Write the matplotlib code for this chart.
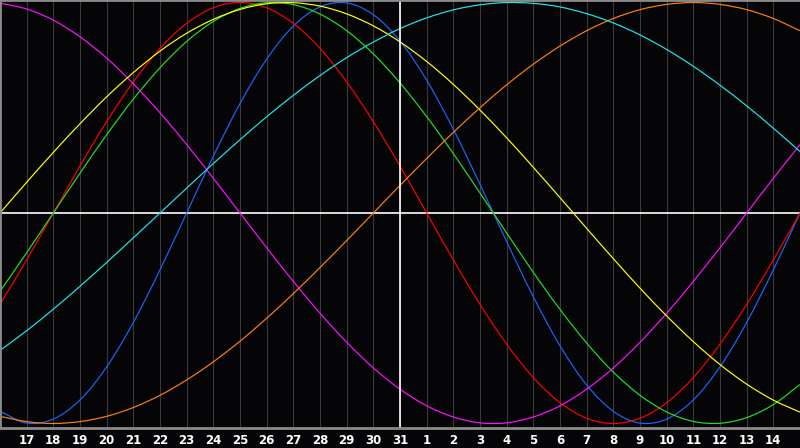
import matplotlib
matplotlib.use('Agg')
import matplotlib.pyplot as plt
from matplotlib.path import Path
from matplotlib.patches import PathPatch

# Day labels: 16 (left edge) ... 31, 1 ... 15 (right edge)
day_labels = [str(d) for d in list(range(16, 32)) + list(range(1, 16))]

# Cycle values (percent) at each day position
physical_23 = [-94.2, -99.8, -97.9, -88.8, -73.1, -52.0, -27.0, 0.0, 27.0, 52.0, 73.1,
               88.8, 97.9, 99.8, 94.2, 81.7, 63.1, 39.8, 13.6, -13.6, -39.8, -63.1,
               -81.7, -94.2, -99.8, -97.9, -88.8, -73.1, -52.0, -27.0, 0.0]
emotional_28 = [-43.4, -22.3, 0.0, 22.3, 43.4, 62.3, 78.2, 90.1, 97.5, 100.0, 97.5,
                90.1, 78.2, 62.3, 43.4, 22.3, 0.0, -22.3, -43.4, -62.3, -78.2, -90.1,
                -97.5, -100.0, -97.5, -90.1, -78.2, -62.3, -43.4, -22.3, 0.0]
intellectual_33 = [-37.2, -18.9, 0.0, 18.9, 37.2, 54.1, 69.0, 81.5, 91.0, 97.2, 99.9,
                   99.0, 94.5, 86.6, 75.6, 61.8, 45.8, 28.2, 9.5, -9.5, -28.2, -45.8,
                   -61.8, -75.6, -86.6, -94.5, -99.0, -99.9, -97.2, -91.0, -81.5]
intuitive_38 = [99.7, 96.9, 91.6, 83.7, 73.6, 61.4, 47.6, 32.5, 16.5, 0.0, -16.5,
                -32.5, -47.6, -61.4, -73.6, -83.7, -91.6, -96.9, -99.7, -99.7, -96.9, -91.6,
                -83.7, -73.6, -61.4, -47.6, -32.5, -16.5, 0.0, 16.5, 32.5]
aesthetic_43 = [0.0, 14.6, 28.8, 42.4, 55.2, 66.7, 76.9, 85.4, 92.0, 96.7, 99.4,
                99.9, 98.3, 94.6, 88.9, 81.3, 72.0, 61.1, 48.9, 35.7, 21.7, 7.3,
                -7.3, -21.7, -35.7, -48.9, -61.1, -72.0, -81.3, -88.9, -94.6]
awareness_48 = [-96.6, -99.1, -100.0, -99.1, -96.6, -92.4, -86.6, -79.3, -70.7, -60.9, -50.0,
                -38.3, -25.9, -13.1, 0.0, 13.1, 25.9, 38.3, 50.0, 60.9, 70.7, 79.3,
                86.6, 92.4, 96.6, 99.1, 100.0, 99.1, 96.6, 92.4, 86.6]
spiritual_53 = [-65.3, -55.9, -45.7, -34.8, -23.5, -11.8, 0.0, 11.8, 23.5, 34.8, 45.7,
                55.9, 65.3, 73.8, 81.2, 87.6, 92.7, 96.5, 98.9, 100.0, 99.6, 97.9,
                94.7, 90.3, 84.6, 77.7, 69.7, 60.7, 50.9, 40.3, 29.2]

series = [
    (physical_23, '#1a66ff'),
    (emotional_28, '#ff0000'),
    (intellectual_33, '#22e022'),
    (intuitive_38, '#ff10ff'),
    (aesthetic_43, '#ffff10'),
    (awareness_48, '#ff8010'),
    (spiritual_53, '#20e8e8'),
]

BG = '#050508'


def smooth_path(xs, ys):
    """Smooth (Catmull-Rom style) line through the data points."""
    pts = list(zip(xs, ys))
    n = len(pts)
    ext = [(2 * pts[0][0] - pts[1][0], 2 * pts[0][1] - pts[1][1])] + pts + \
          [(2 * pts[-1][0] - pts[-2][0], 2 * pts[-1][1] - pts[-2][1])]
    verts = [pts[0]]
    codes = [Path.MOVETO]
    for i in range(1, n):
        p0, p1, p2, p3 = ext[i - 1], ext[i], ext[i + 1], ext[i + 2]
        c1 = (p1[0] + (p2[0] - p0[0]) / 6, p1[1] + (p2[1] - p0[1]) / 6)
        c2 = (p2[0] - (p3[0] - p1[0]) / 6, p2[1] - (p3[1] - p1[1]) / 6)
        verts += [c1, c2, p2]
        codes += [Path.CURVE4] * 3
    return Path(verts, codes)


fig = plt.figure(figsize=(8, 4.48), dpi=100, facecolor=BG)
ax = fig.add_axes([0, 20 / 448, 1, 428 / 448])
ax.set_facecolor(BG)
ax.set_xlim(0, 30)
ax.set_ylim(-102.14, 101.19)

x = list(range(len(day_labels)))
for k in range(1, 30):
    ax.axvline(k, color='#3a3a3a', lw=0.8, zorder=1)

for vals, col in series:
    patch = PathPatch(smooth_path(x, vals), facecolor='none', edgecolor=col,
                      lw=0.85, zorder=3)
    ax.add_patch(patch)

ax.axhline(0, color='white', lw=1.2, zorder=2)
ax.axvline(15, color='white', lw=1.2, zorder=4)

ax.set_xticks(x[1:30])
ax.set_xticklabels(day_labels[1:30], fontsize=8.5, fontweight='bold', color='white')
ax.set_yticks([])
ax.tick_params(length=0, pad=4.5)
for s in ['top', 'left', 'bottom']:
    ax.spines[s].set_color('#8a8a8a')
    ax.spines[s].set_linewidth(2)
    ax.spines[s].set_zorder(5)
ax.spines['right'].set_visible(False)

fig.savefig('out.png', dpi=100, facecolor=BG)
